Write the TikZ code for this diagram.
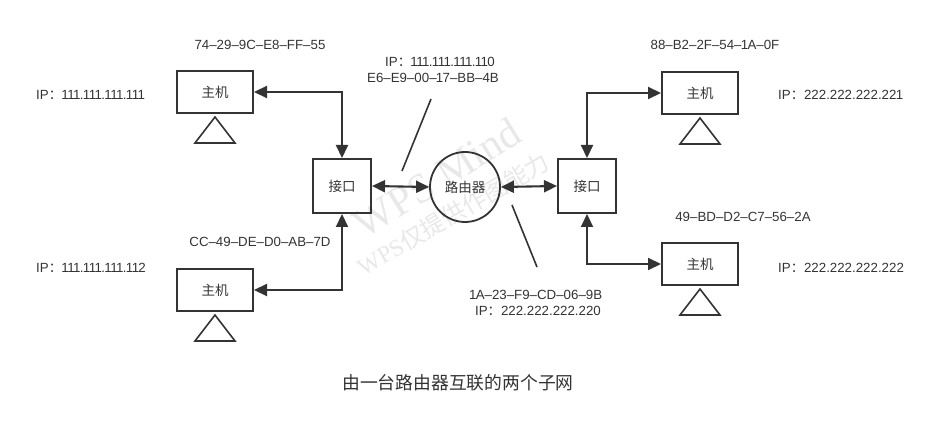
\documentclass[tikz,border=0pt]{standalone}
\usepackage{fontspec}
\setmainfont{Liberation Sans}
\newfontfamily\cjk{Noto Sans CJK SC}
\newfontfamily\wmserif{Liberation Serif}
\usetikzlibrary{arrows.meta}
\definecolor{ink}{HTML}{333333}
\definecolor{wm}{HTML}{E8E8E8}
\newcommand\oneN{\kern-0.055em1\kern-0.055em}
\begin{document}
\begin{tikzpicture}[x=1pt,y=-1pt,
  host/.style={draw=ink,line width=2pt,minimum width=76pt,minimum height=42pt,inner sep=0pt,font=\cjk\fontsize{13.5}{15}\selectfont,text=ink},
  port/.style={draw=ink,line width=2pt,minimum width=58pt,minimum height=54pt,inner sep=0pt,font=\cjk\fontsize{13.5}{15}\selectfont,text=ink},
  router/.style={draw=ink,line width=1.8pt,circle,minimum size=70pt,inner sep=0pt,font=\cjk\fontsize{13.5}{15}\selectfont,text=ink},
  lbl/.style={inner sep=0pt,font=\fontsize{13.3}{15}\selectfont,text=ink,align=center},
  arr/.style={draw=ink,line width=2.1pt,{Triangle[length=13pt,width=12pt]}-{Triangle[length=13pt,width=12pt]}},
  tri/.style={draw=ink,line width=1.6pt,line join=miter},
  plain/.style={draw=ink,line width=1.6pt}]
\useasboundingbox (0,0) rectangle (943,422);
% watermark
\node[text=wm,rotate=32,font=\wmserif\fontsize{42}{44}\selectfont] (wm1) at (437,178) {WPS Mind};
\node[text=wm,rotate=30,font=\fontsize{24}{26}\selectfont] (wm2) at (453,214) {{\wmserif WPS}{\cjk 仅提供作图能力}};
% nodes
\node[host] (h1) at (215,92) {主机};
\node[host] (h2) at (215,290) {主机};
\node[host] (h3) at (700,93) {主机};
\node[host] (h4) at (700,264) {主机};
\node[port] (i1) at (342,186) {接口};
\node[port] (i2) at (587,186) {接口};
\node[router] (r) at (465,187) {路由器};
% triangles
\draw[tri] ([yshift=-3pt]h1.south) -- ++(-20,26) -- ++(40,0) -- cycle;
\draw[tri] ([yshift=-3pt]h2.south) -- ++(-20,26) -- ++(40,0) -- cycle;
\draw[tri] ([yshift=-3pt]h3.south) -- ++(-20,26) -- ++(40,0) -- cycle;
\draw[tri] ([yshift=-3pt]h4.south) -- ++(-20,26) -- ++(40,0) -- cycle;
% connectors
\draw[arr] (h1.east) -| (i1.north);
\draw[arr] (h2.east) -| (i1.south);
\draw[arr] (i1.east) -- (r.west);
\draw[arr] (r.east) -- (i2.west);
\draw[arr] (i2.north) |- (h3.west);
\draw[arr] (i2.south) |- (h4.west);
% pointer lines
\coordinate (pa1) at (402,171);
\coordinate (pa2) at (431,99);
\coordinate (pb1) at (512,205);
\coordinate (pb2) at (537,267);
\draw[plain] (pa1) -- (pa2);
\draw[plain] (pb1) -- (pb2);
% labels
\node[lbl] (mac1) at (260,45) {74–29–9C–E8–FF–55};
\node[lbl,anchor=west] (ip1) at (36,95) {IP{\cjk ：}\oneN\oneN\oneN.\oneN\oneN\oneN.\oneN\oneN\oneN.\oneN\oneN\oneN};
\node[lbl] (ip0) at (440,62) {IP{\cjk ：}\oneN\oneN\oneN.\oneN\oneN\oneN.\oneN\oneN\oneN.\oneN\oneN0};
\node[lbl] (mac0) at (433,78) {E6–E9–00–\oneN7–BB–4B};
\node[lbl] (mac3) at (715,45) {88–B2–2F–54–\oneN A–0F};
\node[lbl,anchor=west] (ip3) at (778,95) {IP{\cjk ：}222.222.222.22\oneN};
\node[lbl] (mac4) at (743,217) {49–BD–D2–C7–56–2A};
\node[lbl,anchor=west] (ip4) at (778,268) {IP{\cjk ：}222.222.222.222};
\node[lbl] (mac2) at (260,242) {CC–49–DE–D0–AB–7D};
\node[lbl,anchor=west] (ip2) at (36,268) {IP{\cjk ：}\oneN\oneN\oneN.\oneN\oneN\oneN.\oneN\oneN\oneN.\oneN\oneN2};
\node[lbl] (mac5) at (536,295) {\oneN A–23–F9–CD–06–9B};
\node[lbl] (ip5) at (538,311) {IP{\cjk ：}222.222.222.220};
\node[inner sep=0pt,text=ink,font=\cjk\fontsize{17.8}{19}\selectfont] (cap) at (458,383) {由一台路由器互联的两个子网};
\end{tikzpicture}
\end{document}
